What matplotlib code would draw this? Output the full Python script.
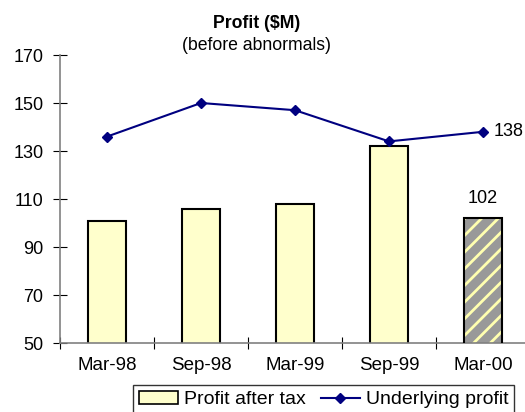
import matplotlib.pyplot as plt
from matplotlib.patches import Patch
from matplotlib.lines import Line2D

plt.rcParams['font.family'] = ['Liberation Sans', 'DejaVu Sans']
plt.rcParams['hatch.linewidth'] = 2.0

periods = ["Mar-98", "Sep-98", "Mar-99", "Sep-99", "Mar-00"]
profit_after_tax = [101, 106, 108, 132, 102]
underlying_profit = [136, 150, 147, 134, 138]

fig = plt.figure(figsize=(5.25, 4.12), dpi=100)
ax = fig.add_axes([60/525, 1-343/412, 470/525, 288/412])

x = list(range(len(periods)))
# plain bars for the first four, hatched bar for the last
ax.bar(x[:-1], profit_after_tax[:-1], width=0.4, color="#FFFFCC",
       edgecolor="black", linewidth=1.5, zorder=2)
ax.bar(x[-1], profit_after_tax[-1], width=0.4, color="#999999",
       edgecolor="#FFFFB0", hatch="//", linewidth=0, zorder=2)
ax.bar(x[-1], profit_after_tax[-1], width=0.4, color="none",
       edgecolor="black", linewidth=1.5, zorder=3)
ax.plot(x, underlying_profit, color="#000080", marker="D", markersize=5,
        linewidth=1.5, zorder=4)

ax.annotate(str(profit_after_tax[-1]), (x[-1], profit_after_tax[-1]),
            xytext=(0, 8), textcoords="offset points", ha="center",
            va="bottom", fontsize=13)
ax.annotate(str(underlying_profit[-1]), (x[-1], underlying_profit[-1]),
            xytext=(8, 0), textcoords="offset points", ha="left",
            va="center", fontsize=13, annotation_clip=False)

ax.set_xlim(-0.5, len(periods)-0.5)
ax.set_ylim(50, 170)
ax.set_yticks([50, 70, 90, 110, 130, 150, 170])
ax.set_xticks(x)
ax.set_xticklabels(periods)
ax.set_xticks([i-0.5 for i in range(len(periods)+1)], minor=True)
ax.tick_params(axis="x", which="major", length=0, labelsize=13.5, pad=10)
ax.tick_params(axis="x", which="minor", direction="inout", length=9,
               color="black", width=0.8)
ax.tick_params(axis="y", direction="inout", length=10, labelsize=13,
               color="black", width=0.8, pad=7)

for s in ["top", "right"]:
    ax.spines[s].set_visible(False)
for s in ["left", "bottom"]:
    ax.spines[s].set_color("#808080")
    ax.spines[s].set_linewidth(1.2)

fig.text(257/525, 1-23/412, "Profit ($M)", ha="center", va="center",
         fontsize=12.7, fontweight="bold")
fig.text(257/525, 1-45/412, "(before abnormals)", ha="center", va="center",
         fontsize=12.7)

handles = [Patch(facecolor="#FFFFCC", edgecolor="black", linewidth=1.2),
           Line2D([], [], color="#000080", marker="D", markersize=5,
                  linewidth=1.5)]
leg = fig.legend(handles, ["Profit after tax", "Underlying profit"],
                 loc="upper left", bbox_to_anchor=(133/525, 1-385/412),
                 ncol=2, fontsize=14, frameon=True, fancybox=False,
                 borderpad=0.3, handlelength=2.0, handletextpad=0.3,
                 columnspacing=0.8, borderaxespad=0)
leg.get_frame().set_edgecolor("black")
leg.get_frame().set_linewidth(1.0)

fig.savefig("out.png", dpi=100)
